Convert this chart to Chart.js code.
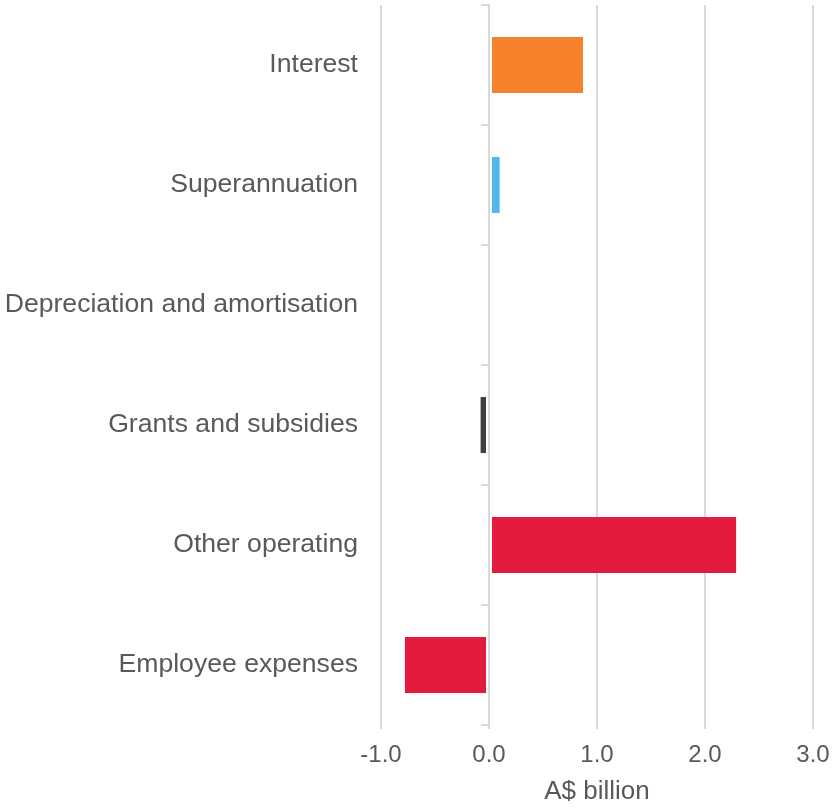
<!DOCTYPE html>
<html>
<head>
<meta charset="utf-8">
<script src="https://cdn.jsdelivr.net/npm/chart.js@4/dist/chart.umd.min.js"></script>
<style>
  html, body { margin: 0; padding: 0; background: #ffffff; }
  #wrap { width: 832px; height: 807px; position: relative; }
</style>
</head>
<body>
<div id="wrap"><canvas id="c"></canvas></div>
<script>
// Expense categories, top to bottom
const categories = [
  'Interest',
  'Superannuation',
  'Depreciation and amortisation',
  'Grants and subsidies',
  'Other operating',
  'Employee expenses'
];
// Change in expenses, A$ billion
const values = [0.87, 0.10, 0.0, -0.08, 2.29, -0.78];
const barColors = ['#F5822A', '#4DB8EA', '#404040', '#404040', '#E31A3E', '#E31A3E'];
const xTicks = [-1, 0, 1, 2, 3];
const xTitle = 'A$ billion';

const gridColor = '#D9D9D9';
const textColor = '#595959';
const fontFamily = '"Liberation Sans", Arial, sans-serif';

// Small tick marks on the zero line at each category boundary
const zeroTicks = {
  id: 'zeroTicks',
  afterDatasetsDraw(chart) {
    const { ctx, scales: { x, y } } = chart;
    const x0 = x.getPixelForValue(0);
    const n = categories.length;
    ctx.save();
    ctx.strokeStyle = gridColor;
    ctx.lineWidth = 2;
    for (let i = 0; i <= n; i++) {
      const yy = y.getPixelForValue(i - 0.5);
      ctx.beginPath();
      ctx.moveTo(x0 - 8, yy);
      ctx.lineTo(x0 + 1, yy);
      ctx.stroke();
    }
    ctx.restore();
  }
};

new Chart(document.getElementById('c'), {
  type: 'bar',
  data: {
    labels: categories,
    datasets: [{
      data: values,
      backgroundColor: barColors,
      categoryPercentage: 1.0,
      barPercentage: 0.467,
      borderColor: '#ffffff',
      borderSkipped: false,
      // thin white edge on the base side keeps bars clear of the zero line
      borderWidth: (c) => {
        const v = c.raw;
        return v >= 0 ? { left: 2, right: 0, top: 0, bottom: 0 }
                      : { left: 0, right: 2, top: 0, bottom: 0 };
      }
    }]
  },
  options: {
    indexAxis: 'y',
    responsive: true,
    maintainAspectRatio: false,
    animation: false,
    layout: { padding: { top: 5, right: 19, bottom: 0, left: 0 } },
    plugins: {
      legend: { display: false },
      tooltip: { enabled: false }
    },
    scales: {
      x: {
        min: -1,
        max: 3,
        afterBuildTicks(scale) {
          scale.ticks = xTicks.map(v => ({ value: v }));
        },
        afterFit(scale) {
          scale.height = 82;
          scale.paddingLeft = 0;
          scale.paddingRight = 0;
        },
        grid: {
          color: gridColor,
          lineWidth: 2,
          drawTicks: true,
          tickLength: 4
        },
        border: { display: false },
        ticks: {
          color: textColor,
          font: { family: fontFamily, size: 24 },
          padding: 12,
          maxRotation: 0,
          callback: (v) => Number(v).toFixed(1)
        },
        title: {
          display: true,
          text: xTitle,
          color: textColor,
          font: { family: fontFamily, size: 26 },
          padding: { top: 0, bottom: 0 }
        }
      },
      y: {
        afterFit(scale) {
          scale.width = 381;
          scale.paddingTop = 0;
          scale.paddingBottom = 0;
        },
        grid: { display: false, drawOnChartArea: false, drawTicks: false },
        border: { display: false },
        ticks: {
          color: textColor,
          font: { family: fontFamily, size: 26.6 },
          padding: 23
        }
      }
    }
  },
  plugins: [zeroTicks]
});
</script>
</body>
</html>
